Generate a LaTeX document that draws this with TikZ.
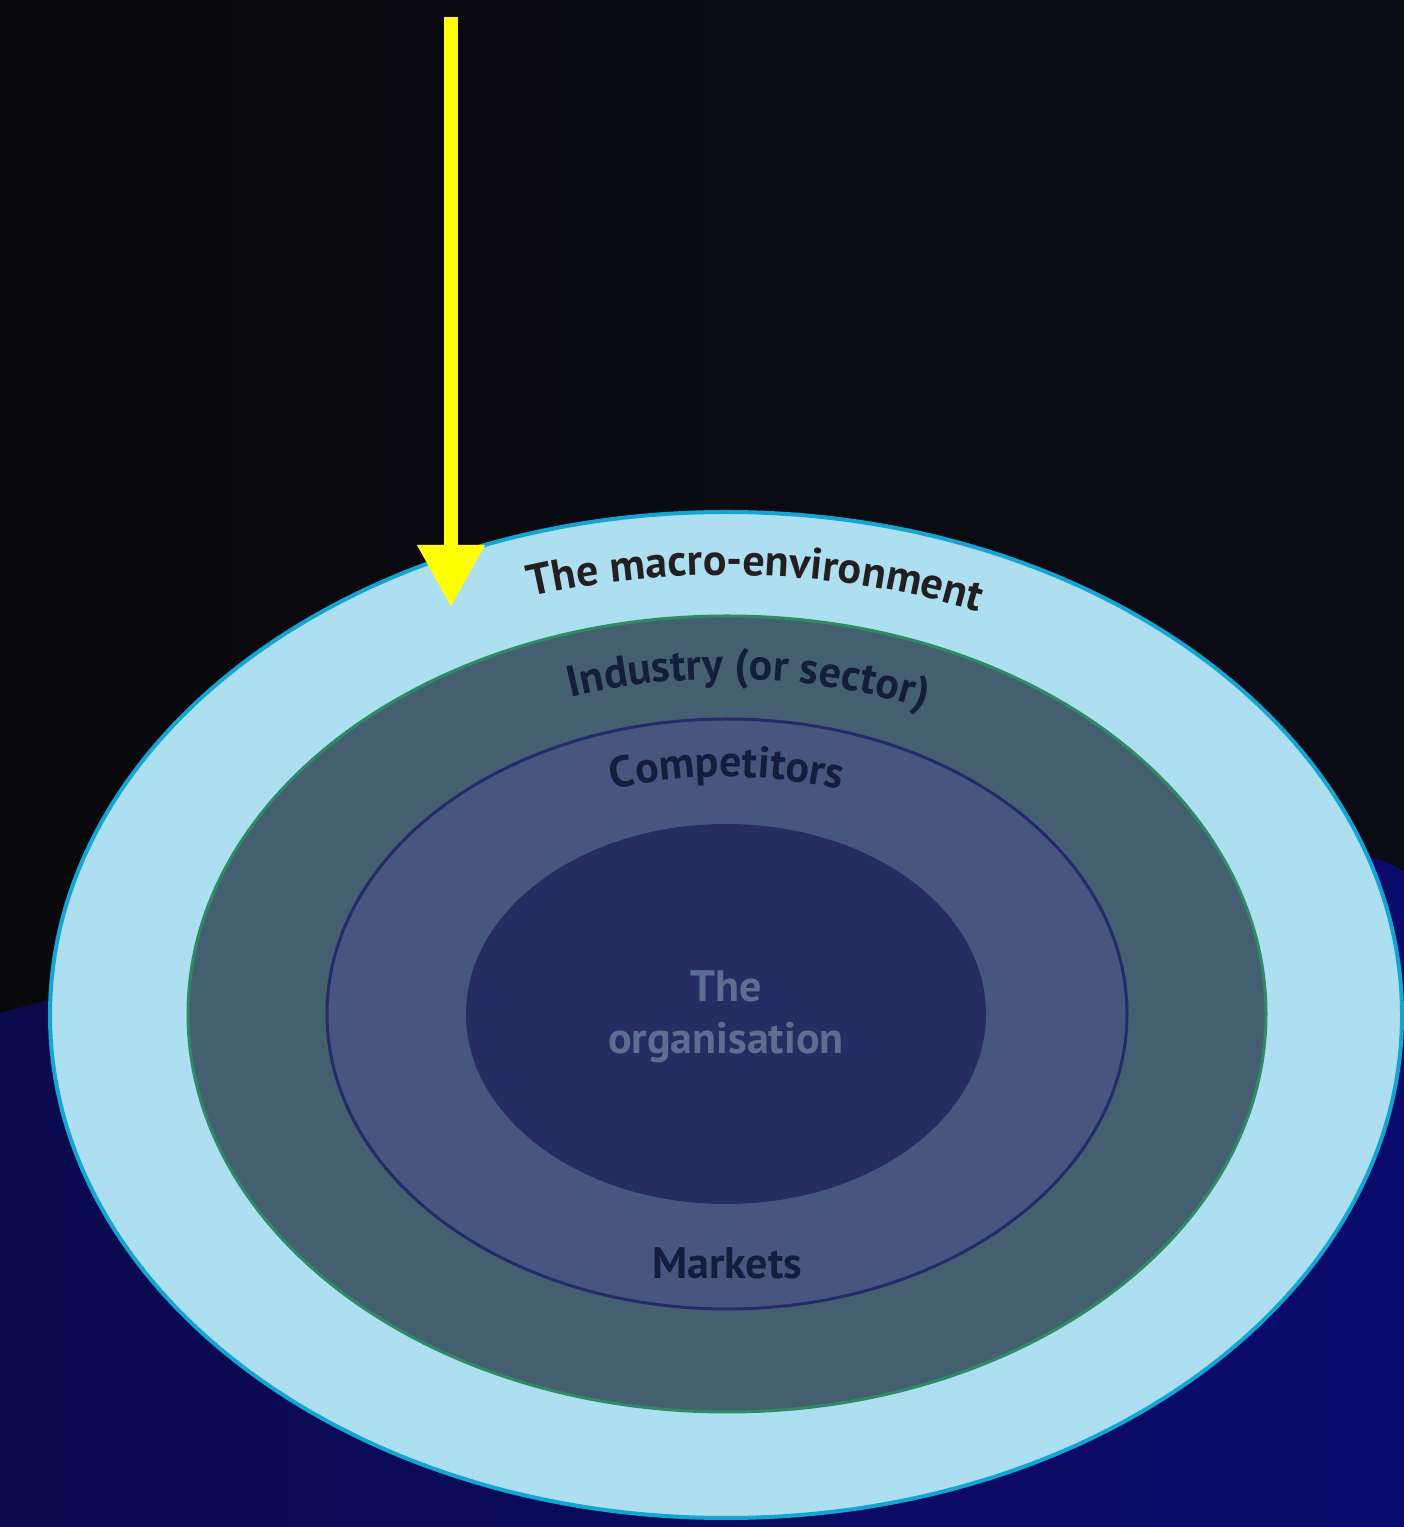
\documentclass[tikz,border=0pt]{standalone}
\usepackage{fontspec}
\setmainfont{PT Sans}
\usetikzlibrary{arrows.meta,decorations.text}
\definecolor{bgdark}{RGB}{10,10,13}
\definecolor{bgdarkr}{RGB}{11,11,22}
\definecolor{bgnavy}{RGB}{10,10,78}
\definecolor{bgnavyr}{RGB}{11,11,110}
\definecolor{macrofill}{RGB}{173,223,240}
\definecolor{macroline}{RGB}{20,165,210}
\definecolor{industryfill}{RGB}{68,96,112}
\definecolor{industryline}{RGB}{45,140,100}
\definecolor{compfill}{RGB}{71,86,126}
\definecolor{compline}{RGB}{37,42,107}
\definecolor{orgfill}{RGB}{37,45,98}
\definecolor{labeldark}{RGB}{35,31,32}
\definecolor{labelnavy}{RGB}{20,30,60}
\definecolor{orgtext}{RGB}{94,110,144}
\definecolor{arrowyellow}{RGB}{255,255,0}
\newcommand\ringfont{\fontsize{44}{52}\selectfont\bfseries}

\begin{document}
\begin{tikzpicture}[x=1pt, y=1pt]
  \useasboundingbox (0,0) rectangle (1404,1527);

  % Background
  \shade[left color=bgdark, right color=bgdarkr] (0,0) rectangle (1404,1527);
  \shade[left color=bgnavy, right color=bgnavyr] (0,0) -- (0,514)
    .. controls (300,598) and (1250,760) .. (1404,655) -- (1404,0) -- cycle;

  % Macro-environment
  \filldraw[fill=macrofill, draw=macroline, line width=4pt] (726,512) ellipse[x radius=676, y radius=503];
  % Industry
  \filldraw[fill=industryfill, draw=industryline, line width=3pt] (727,513) ellipse[x radius=539, y radius=398];
  % Competitors / markets
  \filldraw[fill=compfill, draw=compline, line width=3pt] (727,513) ellipse[x radius=400, y radius=295];
  % Organisation
  \fill[orgfill] (726,513) ellipse[x radius=260, y radius=190];

  % Curved ring labels
  \path[decorate, decoration={text along path, text align=center, text color=labeldark,
      text={|\ringfont|The macro-environment}}]
    (726,512) ++(127:630 and 440) arc[start angle=127, end angle=47, x radius=630, y radius=440];
  \path[decorate, decoration={text along path, text align=center, text color=labelnavy,
      text={|\ringfont|Industry (or sector)}}]
    (726,513) ++(127:480 and 335) arc[start angle=127, end angle=47, x radius=480, y radius=335];
  \path[decorate, decoration={text along path, text align=center, text color=labelnavy,
      text={|\ringfont|Competitors}}]
    (727,513) ++(135:350 and 237) arc[start angle=135, end angle=45, x radius=350, y radius=237];

  \node[font=\ringfont, text=labelnavy, anchor=base] (markets) at (727,248) {Markets};
  \node[font=\ringfont, text=orgtext, align=center] (org) at (726,510) {The\\organisation};

  % Arrow
  \coordinate (arrowtop) at (451,1510);
  \coordinate (arrowtip) at (451,920);
  \draw[arrowyellow, line width=14pt, -{Triangle[width=64pt, length=62pt]}] (arrowtop) -- (arrowtip);
\end{tikzpicture}
\end{document}
